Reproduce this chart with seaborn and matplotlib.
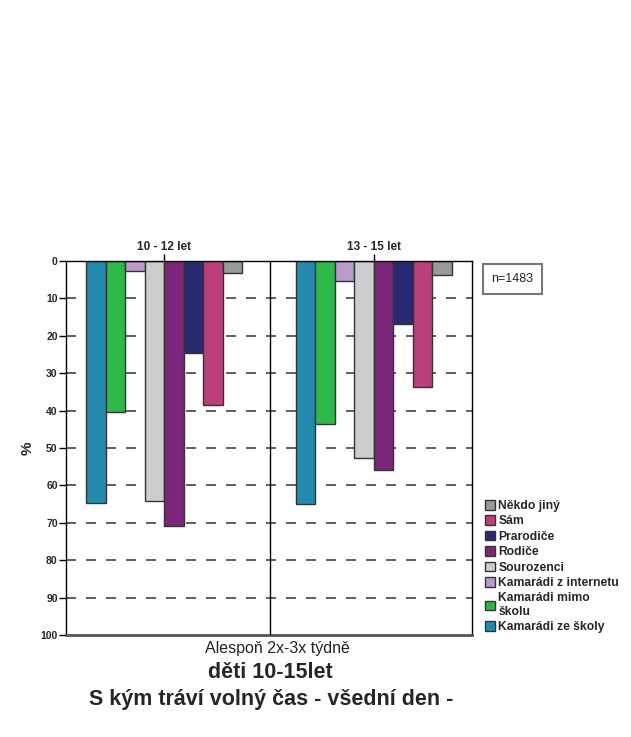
import matplotlib
matplotlib.use('Agg')
import matplotlib.pyplot as plt
import seaborn as sns
import pandas as pd
from matplotlib.patches import Patch

sns.set_theme(style='white')
plt.rcParams['font.family'] = ['Liberation Sans', 'DejaVu Sans']

vekove_skupiny = ['10 - 12 let', '13 - 15 let']
kdo = ['Kamarádi ze školy', 'Kamarádi mimo\nškolu', 'Kamarádi z internetu', 'Sourozenci',
       'Rodiče', 'Prarodiče', 'Sám', 'Někdo jiný']
hodnoty_10_12 = [64.8, 40.3, 2.6, 64.2, 70.9, 24.5, 38.6, 3.3]
hodnoty_13_15 = [64.9, 43.6, 5.3, 52.8, 55.9, 16.8, 33.6, 3.7]
barvy = ['#2389ad', '#2eb84a', '#b99ccb', '#cccccc', '#7b2679', '#292a71', '#bb3f7b', '#999999']
y_ticks = [0, 10, 20, 30, 40, 50, 60, 70, 80, 90, 100]

df = pd.DataFrame({
    'vek': [vekove_skupiny[0]] * len(kdo) + [vekove_skupiny[1]] * len(kdo),
    'kdo': kdo + kdo,
    'procent': hodnoty_10_12 + hodnoty_13_15,
})

fig = plt.figure(figsize=(6.31, 7.37), dpi=100)
ax = fig.add_axes([0.1046, 0.1384, 0.6434, 0.5075])

for y in y_ticks[1:-1]:
    ax.axhline(y, color='#444444', lw=1.2, ls=(0, (6, 6)), zorder=0)

sns.barplot(data=df, x='vek', y='procent', hue='kdo', palette=barvy, width=0.743,
            edgecolor='#333333', linewidth=1, saturation=1, ax=ax, legend=False, zorder=2)

ax.axvline(0.505, color='black', lw=1, zorder=3)
ax.set_xlim(-0.467, 1.467)
ax.set_ylim(100, 0)
ax.set_yticks(y_ticks)
ax.set_yticklabels([str(t) for t in y_ticks], fontsize=7.5, fontweight='bold')
ax.xaxis.tick_top()
ax.set_xticks([0, 1])
ax.set_xticklabels(vekove_skupiny, fontsize=8.5, fontweight='bold')
ax.tick_params(axis='both', direction='out', length=5, width=1, color='black', pad=1,
               left=True, top=True, bottom=False)
ax.set_xlabel('')
ax.set_ylabel('%', fontsize=11, fontweight='bold', labelpad=4)
for s in ax.spines.values():
    s.set_color('black')
    s.set_linewidth(1)
ax.spines['bottom'].set_color('#555555')
ax.spines['bottom'].set_linewidth(2)

fig.text(277 / 631, 1 - 648 / 737, 'Alespoň 2x-3x týdně', ha='center', va='center',
         fontsize=11.5, color='#222222')
fig.text(270 / 631, 1 - 673 / 737, 'děti 10-15let', ha='center', va='center',
         fontsize=15.5, fontweight='bold')
fig.text(271 / 631, 1 - 699 / 737, 'S kým tráví volný čas - všední den -', ha='center', va='center',
         fontsize=15.5, fontweight='bold')

fig.text(512.5 / 631, 1 - 279 / 737, 'n=1483', ha='center', va='center', fontsize=9,
         bbox=dict(boxstyle='square,pad=0.7', fc='white', ec='#777777', lw=1.5))

handles = [Patch(facecolor=c, edgecolor='#333333', lw=1, label=k) for c, k in zip(barvy, kdo)]
fig.legend(handles=handles[::-1], loc='upper left', bbox_to_anchor=(485 / 631, 1 - 500 / 737),
           frameon=False, prop={'weight': 'bold', 'size': 8.7},
           handlelength=0.85, handleheight=0.85, handletextpad=0.25, labelspacing=0.28,
           borderaxespad=0, borderpad=0)

fig.savefig('out.png', dpi=100)
